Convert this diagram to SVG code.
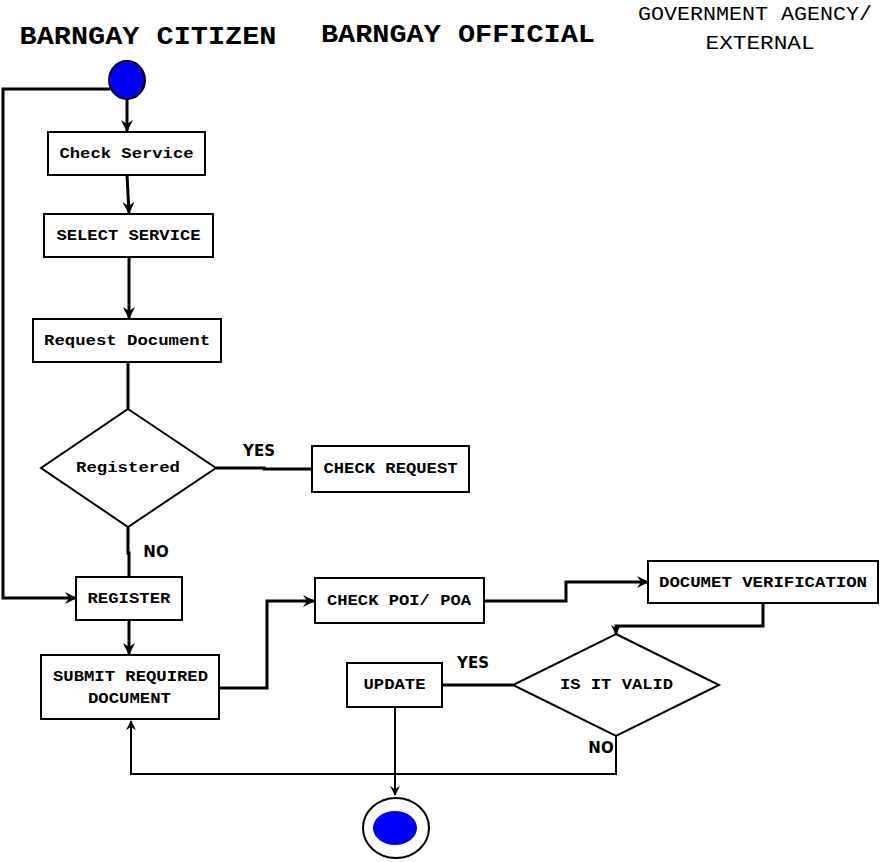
<svg xmlns="http://www.w3.org/2000/svg" width="887" height="862" viewBox="0 0 887 862">
<defs>
<marker id="ah" viewBox="0 0 12 12" refX="11" refY="6" markerWidth="12" markerHeight="12" markerUnits="userSpaceOnUse" orient="auto">
<path d="M0,0 L12,6 L0,12 L4,6 z" fill="#000"/>
</marker>
<marker id="ahs" viewBox="0 0 12 12" refX="11" refY="6" markerWidth="10" markerHeight="10" markerUnits="userSpaceOnUse" orient="auto">
<path d="M0,0 L12,6 L0,12 L4,6 z" fill="#000"/>
</marker>
</defs>
<style>
.box{fill:#fff;stroke:#000;stroke-width:2}
.t{font-family:"Liberation Mono","Courier New",monospace;font-weight:bold;font-size:14px;text-anchor:middle;fill:#000}
.h{font-family:"Liberation Mono","Courier New",monospace;font-weight:bold;font-size:25px;text-anchor:middle;fill:#000}
.h2{font-family:"Liberation Mono","Courier New",monospace;font-size:20px;text-anchor:middle;fill:#000}
.lb{font-family:"DejaVu Sans",Verdana,sans-serif;font-weight:bold;font-size:15px;text-anchor:middle;fill:#000}
.c{fill:none;stroke:#000;stroke-width:3}
.cs{fill:none;stroke:#000;stroke-width:2}
</style>
<rect width="887" height="862" fill="#fff"/>
<g id="headers">
<text class="h" x="148" y="44" textLength="257" lengthAdjust="spacingAndGlyphs">BARNGAY CITIZEN</text>
<text class="h" x="458" y="42" textLength="274" lengthAdjust="spacingAndGlyphs">BARNGAY OFFICIAL</text>
<text class="h2" x="755" y="20" textLength="234" lengthAdjust="spacingAndGlyphs">GOVERNMENT AGENCY/</text>
<text class="h2" x="760" y="49" textLength="109" lengthAdjust="spacingAndGlyphs">EXTERNAL</text>
</g>
<g id="connectors">
<polyline class="c" points="110,89 3,89 3,598 76,598" marker-end="url(#ah)"/>
<line class="c" x1="127" y1="99" x2="127" y2="131" marker-end="url(#ah)"/>
<line class="c" x1="127" y1="175" x2="129" y2="213" marker-end="url(#ah)"/>
<line class="c" x1="129" y1="257" x2="129" y2="318" marker-end="url(#ah)"/>
<line class="c" x1="128" y1="362" x2="128" y2="409"/>
<polyline class="c" points="216,468 264,468 264,469 312,469"/>
<polyline class="c" points="128,527 128,553 129,553 129,577"/>
<line class="c" x1="129" y1="620" x2="129" y2="654" marker-end="url(#ah)"/>
<polyline class="c" points="219,688 267,688 267,601 314,601" marker-end="url(#ah)"/>
<polyline class="c" points="484,601 566,601 566,582 648,582" marker-end="url(#ah)"/>
<polyline class="c" points="763,603 763,626 616,626 616,634" marker-end="url(#ahs)"/>
<line class="c" x1="513" y1="685" x2="442" y2="685"/>
<line class="cs" x1="395" y1="707" x2="395" y2="795" marker-end="url(#ahs)"/>
<polyline class="cs" points="616,736 616,774 131,774 131,721" marker-end="url(#ahs)"/>
<text class="lb" x="259" y="456">YES</text>
<text class="lb" x="156" y="557">NO</text>
<text class="lb" x="473" y="668">YES</text>
<text class="lb" x="601" y="753">NO</text>
</g>
<g id="start">
<ellipse cx="127" cy="80" rx="18" ry="19" fill="#0000ff" stroke="#000" stroke-width="2"/>
</g>
<g id="check-service">
<rect class="box" x="48" y="132" width="157" height="43"/>
<text class="t" x="126.5" y="158" textLength="134" lengthAdjust="spacingAndGlyphs">Check Service</text>
</g>
<g id="select-service">
<rect class="box" x="44" y="214" width="169" height="43"/>
<text class="t" x="128.5" y="240" textLength="144" lengthAdjust="spacingAndGlyphs">SELECT SERVICE</text>
</g>
<g id="request-document">
<rect class="box" x="33" y="319" width="188" height="43"/>
<text class="t" x="127" y="345" textLength="166" lengthAdjust="spacingAndGlyphs">Request Document</text>
</g>
<g id="registered">
<polygon class="box" points="128,409 216,468 128,527 41,468"/>
<text class="t" x="128" y="472" textLength="104" lengthAdjust="spacingAndGlyphs">Registered</text>
</g>
<g id="check-request">
<rect class="box" x="312" y="446" width="157" height="46"/>
<text class="t" x="390.5" y="473" textLength="134" lengthAdjust="spacingAndGlyphs">CHECK REQUEST</text>
</g>
<g id="register">
<rect class="box" x="76" y="577" width="106" height="43"/>
<text class="t" x="129" y="603" textLength="83" lengthAdjust="spacingAndGlyphs">REGISTER</text>
</g>
<g id="submit">
<rect class="box" x="41" y="655" width="178" height="64"/>
<text class="t" x="130.5" y="681" textLength="155" lengthAdjust="spacingAndGlyphs">SUBMIT REQUIRED</text>
<text class="t" x="129.5" y="703" textLength="83" lengthAdjust="spacingAndGlyphs">DOCUMENT</text>
</g>
<g id="check-poi">
<rect class="box" x="315" y="578" width="169" height="45"/>
<text class="t" x="399" y="605" textLength="144" lengthAdjust="spacingAndGlyphs">CHECK POI/ POA</text>
</g>
<g id="doc-verification">
<rect class="box" x="648" y="561" width="230" height="42"/>
<text class="t" x="763" y="587" textLength="208" lengthAdjust="spacingAndGlyphs">DOCUMET VERIFICATION</text>
</g>
<g id="is-it-valid">
<polygon class="box" points="616,634 719,685 616,736 513,685"/>
<text class="t" x="616.5" y="689" textLength="113" lengthAdjust="spacingAndGlyphs">IS IT VALID</text>
</g>
<g id="update">
<rect class="box" x="347" y="663" width="95" height="44"/>
<text class="t" x="394.5" y="689" textLength="62" lengthAdjust="spacingAndGlyphs">UPDATE</text>
</g>
<g id="end">
<ellipse cx="396" cy="828" rx="33" ry="30" fill="#fff" stroke="#000" stroke-width="2"/>
<ellipse cx="395" cy="828" rx="22" ry="17" fill="#0000ff"/>
</g>
</svg>
